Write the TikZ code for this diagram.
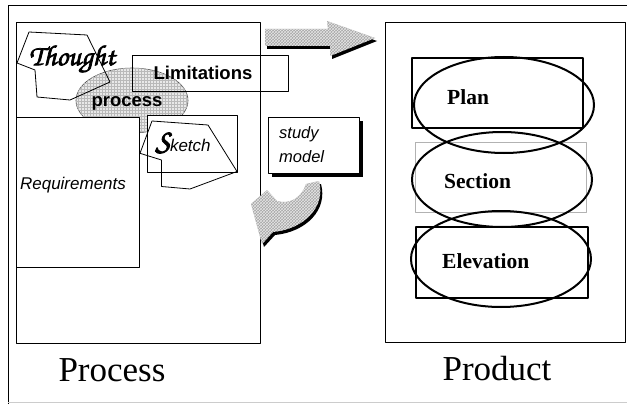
\documentclass[tikz,border=0pt]{standalone}
\usepackage{fontspec}
\setmainfont{Liberation Serif}
\newfontfamily\sansf{Liberation Sans}
\newfontfamily\chorus[FakeBold=2.5]{texgyrechorus-mediumitalic.otf}
\usetikzlibrary{patterns}
\begin{document}
\begin{tikzpicture}[x=1pt,y=-1pt,line join=round,
  box/.style={draw=black,line width=0.9pt,inner sep=0pt,outer sep=0pt},
  wbox/.style={box,fill=white},
  prodrect/.style={draw=black,line width=1.5pt,inner sep=0pt,outer sep=0pt},
  prodell/.style={draw=black,line width=2pt},
  boldsans/.style={font=\sansf\bfseries\fontsize{18.5}{20}\selectfont,inner sep=0pt},
  itsans/.style={font=\sansf\itshape\fontsize{16.5}{19}\selectfont,inner sep=0pt},
  prodtext/.style={font=\bfseries\fontsize{21.5}{24}\selectfont,inner sep=0pt,anchor=base west},
  bigtitle/.style={font=\fontsize{35}{40}\selectfont,inner sep=0pt,anchor=base},
  hatcharrow/.style={fill=gray!70,postaction={pattern=crosshatch,pattern color=gray!20}},
  shadow/.style={fill=black}]
\useasboundingbox (0,0) rectangle (627,404);

% outer frame lines
\coordinate (tl) at (8,5);
\coordinate (tr) at (627,5);
\coordinate (bl) at (8,404);
\coordinate (bbl) at (8,402);
\coordinate (bbr) at (627,402);
\draw[line width=0.9pt] (tr) -- (tl) -- (bl);
\draw[gray!40,line width=0.8pt] (bbl) -- (bbr);

% ---------- Process side ----------
\node[box,minimum width=244pt,minimum height=321pt] (procbox) at (138,182.5) {};

% process ellipse
\draw[gray!60!black,line width=0.6pt,fill=gray!18,postaction={pattern=grid,pattern color=gray!55}]
  (132,100.5) ellipse [x radius=56,y radius=32.5];
\node[boldsans] (proctext) at (127,103) {process};

% Limitations rectangle
\node[box,minimum width=156pt,minimum height=36pt] (limbox) at (210,73) {};
\node[boldsans] (limtext) at (203,73) {Limitations};

% Thought polygon
\draw[line width=0.8pt] (29,32) -- (87,35) -- (110,82) -- (70,100) -- (37,97) -- (35,70) -- (17,63) -- cycle;
\node[font=\chorus\fontsize{29}{31}\selectfont,inner sep=0pt] (thought) at (72,59) {Thought};

% Requirements rectangle
\node[wbox,minimum width=123pt,minimum height=150pt] (reqbox) at (77.5,192) {};
\node[inner sep=0pt,font=\sansf\itshape\fontsize{17}{19}\selectfont] (reqtext) at (73,185) {Requirements};

% Sketch rectangle and polygon
\node[wbox,minimum width=90pt,minimum height=57pt] (skbox) at (192,143.5) {};
\draw[line width=0.8pt] (152,121) -- (208,125) -- (237,171.5) -- (190,189) -- (161.5,186.5) -- (161.5,160) -- (140,153.3) -- cycle;
\node[inner sep=0pt] (sketch) at (183,143) {{\chorus\fontsize{32}{34}\selectfont S}{\sansf\itshape\fontsize{17}{19}\selectfont ketch}};

% study model box with shadow
\node[fill=black,inner sep=0pt,minimum width=91pt,minimum height=56pt] (studyshadow) at (317.5,149) {};
\node[wbox,minimum width=91pt,minimum height=56pt] (studybox) at (313.5,145) {};
\node[itsans,anchor=base west] (study1) at (279,138) {study};
\node[itsans,anchor=base west] (study2) at (279,162) {model};

% top arrow
\fill[shadow] (267,32) -- (331,32) -- (330,24) -- (377,41) -- (332,59) -- (332,49) -- (267,49) -- cycle;
\path[hatcharrow] (265,29) -- (328,29) -- (327,21) -- (375,38) -- (330,56) -- (330,46) -- (265,46) -- cycle;

% curved arrow
\fill[shadow] (253,207) -- (269,193) -- (279,204) .. controls (292,208) and (304,200) .. (308,187) -- (321,184) .. controls (328,210) and (306,232) .. (275,235) -- (264,247) -- cycle;
\path[hatcharrow] (251,204) -- (267,190) -- (277,201) .. controls (290,205) and (302,197) .. (306,184) -- (319,181) .. controls (326,207) and (304,229) .. (273,232) -- (262,244) -- cycle;

\node[bigtitle] (processlabel) at (112,381) {Process};

% ---------- Product side ----------
\node[box,minimum width=240pt,minimum height=320pt] (prodbox) at (505,182) {};

\node[prodrect,minimum width=171pt,minimum height=70pt] (planrect) at (497.5,93) {};
\node[draw=gray!60,line width=0.9pt,inner sep=0pt,minimum width=171pt,minimum height=70pt] (secrect) at (500.5,177) {};
\node[prodrect,minimum width=172pt,minimum height=71pt] (elevrect) at (502,262.5) {};

\draw[prodell] (504,105) ellipse [x radius=90,y radius=48];
\draw[prodell] (502,179.5) ellipse [x radius=90,y radius=47.5];
\draw[prodell] (501,259) ellipse [x radius=90,y radius=48];

\node[prodtext] (plantext) at (447,104) {Plan};
\node[prodtext] (sectext) at (444,188) {Section};
\node[prodtext] (elevtext) at (442,268) {Elevation};

\node[bigtitle] (productlabel) at (497,380) {Product};
\end{tikzpicture}
\end{document}
